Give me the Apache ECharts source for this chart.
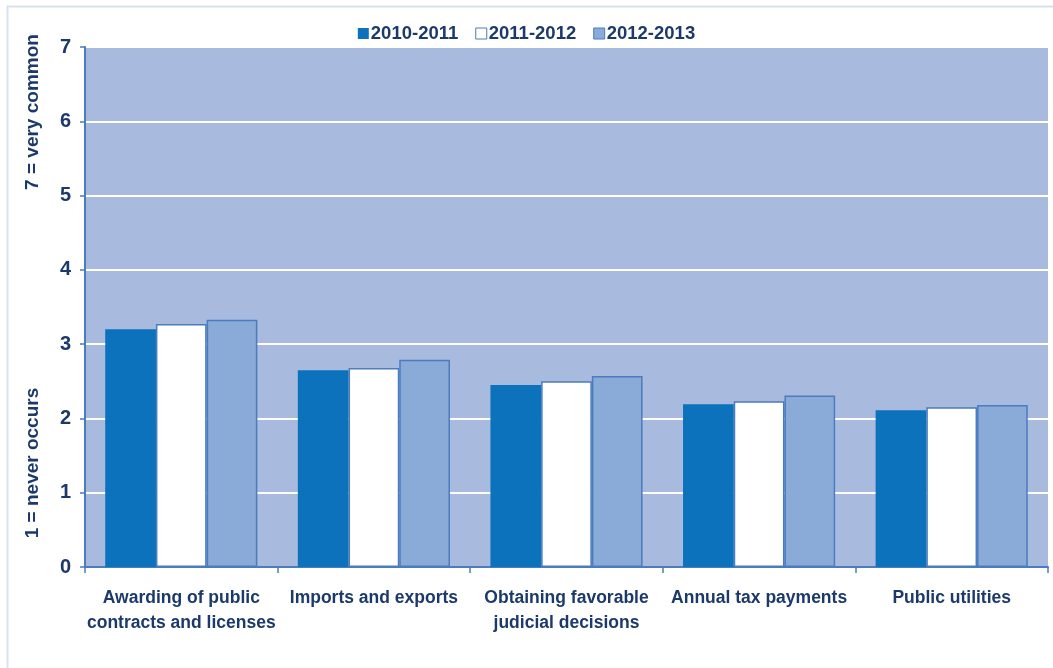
<!DOCTYPE html>
<html><head><meta charset="utf-8">
<script src="https://cdn.jsdelivr.net/npm/echarts@6/dist/echarts.min.js"></script>
<style>html,body{margin:0;padding:0;background:#fff}#c{width:1053px;height:668px}</style>
</head><body><div id="c"></div>
<script>
const categories = ["Awarding of public\ncontracts and licenses", "Imports and exports", "Obtaining favorable\njudicial decisions", "Annual tax payments", "Public utilities"];
const seriesNames = ["2010-2011", "2011-2012", "2012-2013"];
const s2010 = [3.20, 2.65, 2.45, 2.19, 2.11];
const s2011 = [3.27, 2.68, 2.50, 2.23, 2.15];
const s2012 = [3.33, 2.79, 2.57, 2.31, 2.18];
const yTicks = [0, 1, 2, 3, 4, 5, 6, 7];

const navy = '#1b3a6b';
const font = '"Liberation Sans", Arial, sans-serif';
const colors = ['#0b72bb', '#ffffff', '#8aaad7'];
const chart = echarts.init(document.getElementById('c'));
chart.setOption({
  backgroundColor: '#ffffff',
  animation: false,
  color: colors,
  legend: {
    top: 19, left: 'center',
    itemWidth: 11, itemHeight: 11, itemGap: 17,
    icon: 'rect',
    textStyle: { color: navy, fontSize: 18.5, fontWeight: 'bold', fontFamily: font, padding: [0, 0, 0, -3] },
    data: seriesNames.map((n, i) => ({ name: n, itemStyle: { borderColor: '#4a7cbf', borderWidth: i === 0 ? 0 : 1 } }))
  },
  grid: { left: 85, right: 5, top: 47, bottom: 101, backgroundColor: '#a8bbdf', show: true, borderWidth: 0 },
  xAxis: {
    type: 'category', data: categories,
    axisLine: { lineStyle: { color: '#4a7cbf', width: 2 } },
    axisTick: { show: true, length: 6, lineStyle: { color: '#4a7cbf', width: 1.5 } },
    axisLabel: { color: navy, fontSize: 17.5, fontWeight: 'bold', fontFamily: font, margin: 19, lineHeight: 25, interval: 0 }
  },
  yAxis: {
    type: 'value', min: 0, max: 7, interval: 1,
    axisLine: { show: true, lineStyle: { color: '#4a7cbf', width: 2 } },
    axisTick: { show: true, length: 5, lineStyle: { color: '#4a7cbf', width: 1.5 } },
    axisLabel: { color: navy, fontSize: 20, fontWeight: 'bold', fontFamily: font, margin: 14,
      formatter: v => yTicks.includes(v) ? String(v) : '' },
    splitLine: { show: true, lineStyle: { color: '#ffffff', width: 2 } }
  },
  series: [s2010, s2011, s2012].map((d, i) => ({
    name: seriesNames[i], type: 'bar', data: d,
    barGap: '0%', barCategoryGap: '21%',
    itemStyle: { color: colors[i], borderColor: '#4a7cbf', borderWidth: i === 0 ? 0 : 1.5 }
  })),
  graphic: [
    { type: 'rect', left: 5, top: 4, shape: { width: 1060, height: 700 }, style: { fill: 'none', stroke: '#d8e2f0', lineWidth: 2 }, z: -10 },
    { type: 'text', x: 33, y: 112, rotation: Math.PI / 2, style: { text: '7 = very common', fill: navy, font: 'bold 19px ' + font, textAlign: 'center', textVerticalAlign: 'middle' } },
    { type: 'text', x: 33, y: 463, rotation: Math.PI / 2, style: { text: '1 = never occurs', fill: navy, font: 'bold 19px ' + font, textAlign: 'center', textVerticalAlign: 'middle' } }
  ]
});
</script></body></html>
